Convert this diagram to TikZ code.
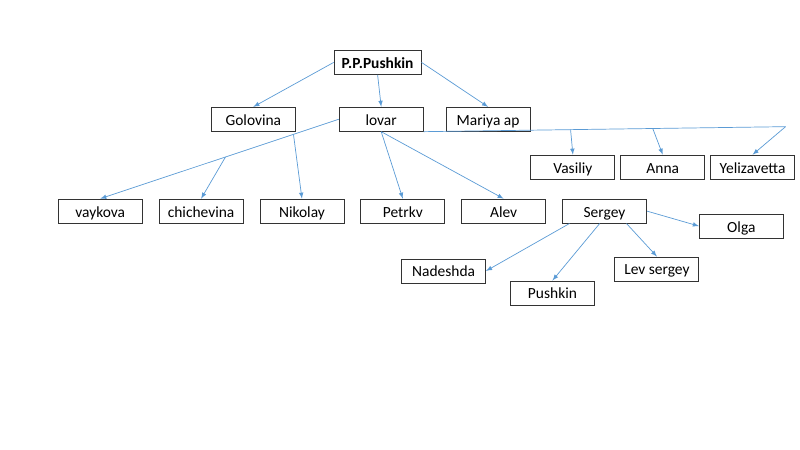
\documentclass[tikz,border=0pt]{standalone}
\usepackage{fontspec}
\setmainfont{Carlito}
\usepackage{xcolor}
\usetikzlibrary{positioning}
\usetikzlibrary{arrows}
\usetikzlibrary{calc}
\definecolor{linkblue}{RGB}{91,155,213}

\begin{document}
\begin{tikzpicture}
			\tikzstyle{person} = [draw=black!80, line width=0.6pt, rectangle, minimum width=2.1cm, minimum height=0.6cm, inner sep=0pt, text height=9pt, text depth=0.5pt, font=\fontsize{11}{13}\selectfont]
			\tikzstyle{line} = [draw, -latex, linkblue, line width=0.5pt]
			\tikzstyle{trunk} = [draw, linkblue, line width=0.5pt]
			
			\useasboundingbox (0,0) rectangle (20,-11.225);
			
			\node [person, minimum width=2.175cm, font=\fontsize{11}{13}\selectfont\bfseries] (root) at (9.44,-1.56) {P.P.Pushkin};
			\node [person, below=0.8cm of root, xshift=0.09cm] (lovar) {lovar};
			\node [person, left=1.075cm of lovar] (golovina) {Golovina};
			\node [person, right=0.55cm of lovar] (mariya) {Mariya ap};
			\node [person, below right=0.575cm and 0cm of mariya] (vasiliy) {Vasiliy};
			\node [person, right=0.125cm of vasiliy] (anna) {Anna};
			\node [person, right=0.125cm of anna] (yelizavetta) {Yelizavetta};
			
			\node [person, below=1.675cm of lovar, xshift=0.54cm] (petrkv) {Petrkv};
			\node [person, left=0.4cm of petrkv] (nikolay) {Nikolay};
			\node [person, left=0.4cm of nikolay] (chichevina) {chichevina};
			\node [person, left=0.4cm of chichevina] (vaykova) {vaykova};
			\node [person, right=0.4cm of petrkv] (alev) {Alev};
			\node [person, right=0.4cm of alev] (sergey) {Sergey};
			
			\node [person, right=1.3cm of sergey, yshift=-0.375cm] (olga) {Olga};
			\node [person, below=0.825cm of sergey, xshift=1.31cm] (levsergey) {Lev sergey};
			\node [person, below=1.425cm of sergey, xshift=-1.3cm] (pushkin) {Pushkin};
			\node [person, left=0.6cm of pushkin, yshift=0.55cm] (nadeshda) {Nadeshda};
			
			\coordinate (yelztop) at ($(yelizavetta.north)+(0.825,0.7)$);
			\coordinate (chichfork) at ($(lovar.west)!0.475!(vaykova.north)$);
			\coordinate (nikfork) at ($(lovar.west)!0.19!(vaykova.north)$);
			\coordinate (vasfork) at ($(lovar.south east)!0.406!(yelztop)$);
			\coordinate (annafork) at ($(lovar.south east)!0.633!(yelztop)$);
			
			\path [line] (root.west) -- (golovina.north);
			\path [line] (root.south) -- (lovar.north);
			\path [line] (root.east) -- (mariya.north);
			
			\path [line] (lovar.west) -- (vaykova.north);
			\path [line] (chichfork) -- (chichevina.north);
			\path [line] (nikfork) -- (nikolay.north);
			\path [line] (lovar.south) -- (petrkv.north);
			\path [line] (lovar.south) -- (alev.north);
			
			\path [trunk] (lovar.south east) -- (yelztop);
			\path [line] (vasfork) -- (vasiliy.north);
			\path [line] (annafork) -- (anna.north);
			\path [line] (yelztop) -- (yelizavetta.north);
			
			\path [line] (sergey.east) -- (olga.west);
			\path [line] ([xshift=0.55cm]sergey.south) -- (levsergey.north);
			\path [line] ([xshift=-0.12cm]sergey.south) -- (pushkin.north);
			\path [line] ([xshift=-0.875cm]sergey.south) -- (nadeshda.east);
\end{tikzpicture}
\end{document}
